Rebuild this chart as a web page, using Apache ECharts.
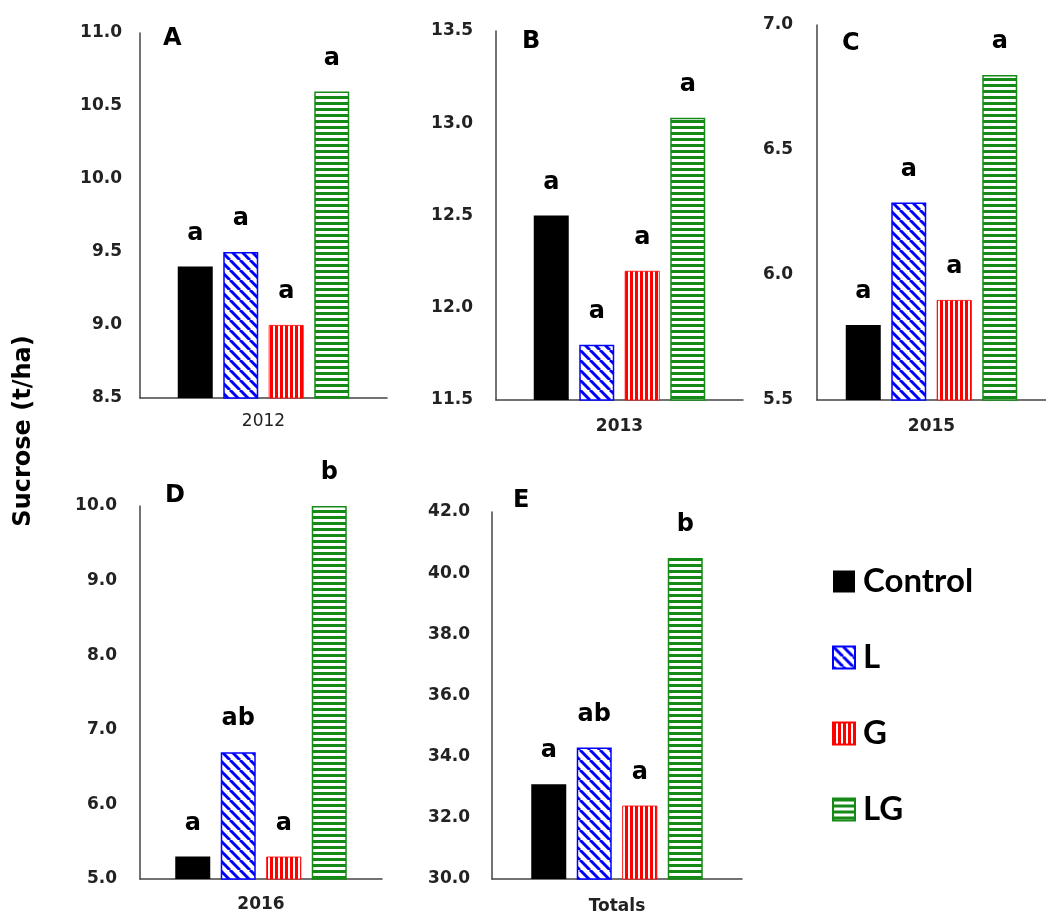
<!DOCTYPE html>
<html>
<head>
<meta charset="utf-8">
<script src="https://cdn.jsdelivr.net/npm/echarts@6/dist/echarts.min.js"></script>
<style>html,body{margin:0;padding:0;background:#fff;}#c{width:1046px;height:916px;}</style>
</head>
<body>
<div id="c"></div>
<script>
// ---- data ----
const categories = ['2012', '2013', '2015', '2016', 'Totals'];
const panelLetters = ['A', 'B', 'C', 'D', 'E'];
const treatments = ['Control', 'L', 'G', 'LG'];
const controlValues = [9.4, 12.5, 5.8, 5.3, 33.1];
const lValues = [9.5, 11.8, 6.29, 6.7, 34.3];
const gValues = [9.0, 12.2, 5.9, 5.3, 32.4];
const lgValues = [10.6, 13.03, 6.8, 10.0, 40.5];
const controlLetters = ['a', 'a', 'a', 'a', 'a'];
const lLetters = ['a', 'a', 'a', 'ab', 'ab'];
const gLetters = ['a', 'a', 'a', 'a', 'a'];
const lgLetters = ['a', 'a', 'a', 'b', 'b'];
const yMin = [8.5, 11.5, 5.5, 5.0, 30.0];
const yMax = [11.0, 13.5, 7.0, 10.0, 42.0];
const yStep = [0.5, 0.5, 0.5, 1.0, 2.0];
const yAxisTitle = 'Sucrose (t/ha)';

// ---- layout ----
const grids = [
  {left: 140, top: 33, width: 247, height: 365},
  {left: 496, top: 31, width: 247, height: 369},
  {left: 817, top: 25, width: 240, height: 375},
  {left: 140, top: 506, width: 242, height: 373},
  {left: 492, top: 512, width: 250, height: 367}
];
const yLabelMargin = [18, 23, 24, 23, 22];
const xLabelMargin = [15, 18, 18, 17, 19];
const xLabelBold = [false, true, true, true, true];
const letterPos = [[163, 27], [522, 30], [842, 32], [165, 484], [513, 489]];

const FONT = 'DejaVu Sans';
const values = [controlValues, lValues, gValues, lgValues];
const letters = [controlLetters, lLetters, gLetters, lgLetters];

function makePattern(kind) {
  const c = document.createElement('canvas');
  const ctx = c.getContext('2d');
  if (kind === 'diag') {
    const s = 10;
    c.width = s; c.height = s;
    ctx.fillStyle = '#fff'; ctx.fillRect(0, 0, s, s);
    ctx.strokeStyle = '#0000ff'; ctx.lineWidth = 3;
    for (const k of [-s, 0, s]) {
      ctx.beginPath(); ctx.moveTo(k, 0); ctx.lineTo(k + s, s); ctx.stroke();
    }
  } else if (kind === 'vert') {
    c.width = 5; c.height = 4;
    ctx.fillStyle = '#fff'; ctx.fillRect(0, 0, 5, 4);
    ctx.fillStyle = '#ff0000'; ctx.fillRect(0, 0, 3, 4);
  } else {
    c.width = 4; c.height = 6;
    ctx.fillStyle = '#fff'; ctx.fillRect(0, 0, 4, 6);
    ctx.fillStyle = '#168a16'; ctx.fillRect(0, 0, 4, 3);
  }
  return {image: c, repeat: 'repeat'};
}

const styles = [
  {color: '#000000', borderColor: '#000000', borderWidth: 0},
  {color: makePattern('diag'), borderColor: '#0000ff', borderWidth: 1.5},
  {color: makePattern('vert'), borderColor: '#ff0000', borderWidth: 0.8},
  {color: makePattern('horiz'), borderColor: '#168a16', borderWidth: 1.5}
];

const xAxes = [], yAxes = [], series = [], titles = [];
categories.forEach((cat, i) => {
  xAxes.push({
    type: 'category', gridIndex: i, data: [cat],
    axisTick: {show: false},
    axisLine: {lineStyle: {color: '#444', width: 1.5}},
    axisLabel: {margin: xLabelMargin[i], fontSize: 17, fontFamily: FONT,
      fontWeight: xLabelBold[i] ? 'bold' : 'normal', color: '#222'}
  });
  yAxes.push({
    type: 'value', gridIndex: i, min: yMin[i], max: yMax[i], interval: yStep[i],
    splitLine: {show: false}, axisTick: {show: false},
    axisLine: {show: true, lineStyle: {color: '#444', width: 1.5}},
    axisLabel: {margin: yLabelMargin[i], fontSize: 17, fontFamily: FONT, fontWeight: 'bold',
      color: '#222', formatter: v => v.toFixed(1)}
  });
  treatments.forEach((t, j) => {
    series.push({
      type: 'bar', name: t, xAxisIndex: i, yAxisIndex: i,
      data: [values[j][i]], barWidth: 35, barGap: '30%',
      itemStyle: styles[j],
      label: {show: true, position: 'top', distance: 21, formatter: letters[j][i],
        fontSize: 24, fontWeight: 'bold', fontFamily: FONT, color: '#000'}
    });
  });
  titles.push({text: panelLetters[i], left: letterPos[i][0], top: letterPos[i][1], padding: 0,
    textStyle: {fontSize: 24, fontWeight: 'bold', fontFamily: FONT, color: '#000'}});
});

const chart = echarts.init(document.getElementById('c'), null, {renderer: 'canvas'});
chart.setOption({
  animation: false,
  backgroundColor: '#fff',
  title: titles,
  grid: grids,
  xAxis: xAxes,
  yAxis: yAxes,
  series: series,
  legend: {
    orient: 'vertical', left: 827, top: 560,
    data: treatments, icon: 'rect', itemWidth: 22, itemHeight: 22, itemGap: 43,
    selectedMode: false,
    textStyle: {fontSize: 33, fontWeight: 'bold', fontFamily: 'Lato', color: '#000',
      lineHeight: 30, padding: [0, 0, 0, 3]}
  },
  graphic: [{
    type: 'text', x: 24, y: 431, rotation: Math.PI / 2,
    style: {text: yAxisTitle, fontSize: 24, fontWeight: 'bold', fontFamily: FONT,
      fill: '#000', textAlign: 'center', textVerticalAlign: 'middle'}
  }]
});
</script>
</body>
</html>
